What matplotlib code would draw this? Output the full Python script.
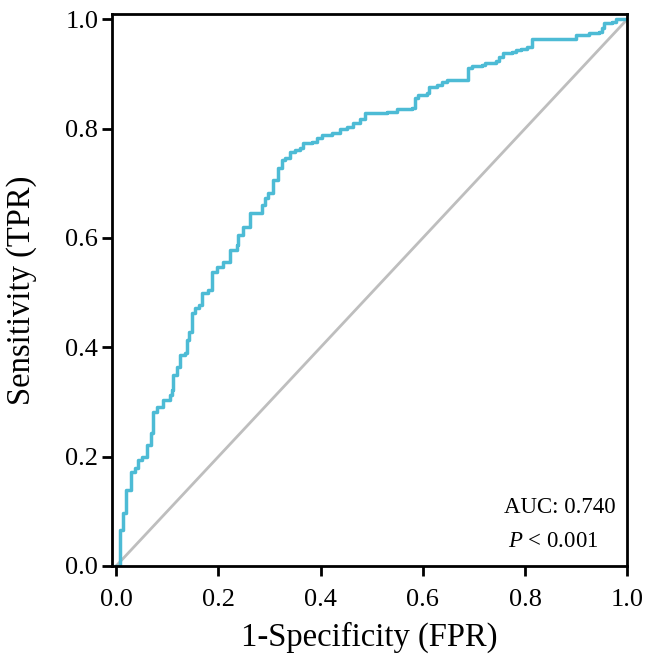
import numpy as np
import matplotlib
matplotlib.use("Agg")
import matplotlib.pyplot as plt

# ROC curve vertices
fpr = [0.000, 0.008, 0.014, 0.020, 0.029, 0.037, 0.043, 0.051, 0.061, 0.068,
       0.072, 0.080, 0.092, 0.105, 0.109, 0.111, 0.119, 0.125, 0.135, 0.139,
       0.143, 0.148, 0.154, 0.162, 0.168, 0.180, 0.188, 0.197, 0.209, 0.223,
       0.236, 0.238, 0.248, 0.262, 0.281, 0.285, 0.291, 0.297, 0.307, 0.316,
       0.324, 0.330, 0.340, 0.350, 0.359, 0.365, 0.383, 0.393, 0.402, 0.422,
       0.438, 0.451, 0.463, 0.477, 0.486, 0.529, 0.549, 0.578, 0.584, 0.590,
       0.609, 0.613, 0.627, 0.637, 0.648, 0.682, 0.688, 0.697, 0.715, 0.721,
       0.736, 0.744, 0.750, 0.756, 0.775, 0.783, 0.793, 0.803, 0.813, 0.814,
       0.893, 0.900, 0.926, 0.945, 0.951, 0.955, 0.971, 0.979, 1.000]
tpr = [0.000, 0.066, 0.097, 0.139, 0.172, 0.179, 0.194, 0.199, 0.221, 0.243,
       0.282, 0.291, 0.304, 0.313, 0.322, 0.349, 0.364, 0.386, 0.390, 0.414,
       0.428, 0.463, 0.472, 0.478, 0.500, 0.505, 0.538, 0.547, 0.556, 0.578,
       0.587, 0.606, 0.620, 0.646, 0.646, 0.661, 0.673, 0.683, 0.706, 0.728,
       0.743, 0.747, 0.758, 0.761, 0.765, 0.774, 0.776, 0.783, 0.789, 0.792,
       0.800, 0.803, 0.811, 0.818, 0.829, 0.831, 0.836, 0.838, 0.856, 0.862,
       0.866, 0.876, 0.880, 0.886, 0.889, 0.889, 0.911, 0.915, 0.917, 0.920,
       0.920, 0.924, 0.931, 0.939, 0.941, 0.944, 0.946, 0.950, 0.957, 0.964,
       0.964, 0.972, 0.975, 0.977, 0.984, 0.994, 0.995, 1.000, 1.000]

ticks = [0.0, 0.2, 0.4, 0.6, 0.8, 1.0]
auc_text = "AUC: 0.740"

plt.rcParams["font.family"] = ["Liberation Serif", "DejaVu Serif"]
plt.rcParams["mathtext.fontset"] = "custom"
plt.rcParams["mathtext.it"] = "Liberation Serif:italic"

fig = plt.figure(figsize=(6.52, 6.58), dpi=100)
ax = fig.add_axes([0.172, 0.140, 0.790, 0.839])

ax.plot([0, 1], [0, 1], color="#BEBEBE", lw=2.0, zorder=1)
ax.plot(fpr, tpr, color="#4DBBD5", lw=2.5, drawstyle="steps-post", zorder=2)

ax.set_xlim(-0.008, 1.0)
ax.set_ylim(0.0, 1.01)
ax.set_xticks(ticks)
ax.set_yticks(ticks)
ax.set_xticklabels([f"{t:.1f}" for t in ticks])
ax.set_yticklabels([f"{t:.1f}" for t in ticks])

for s in ax.spines.values():
    s.set_linewidth(2.0)
ax.tick_params(direction="out", length=7, width=2.0, labelsize=19)
ax.tick_params(axis="x", pad=10)
ax.tick_params(axis="y", pad=3)

ax.set_xlabel("1-Specificity (FPR)", fontsize=23.5, labelpad=7)
ax.set_ylabel("Sensitivity (TPR)", fontsize=23.5, labelpad=20)

ax.text(0.977, 0.105, auc_text, fontsize=16.5, ha="right", va="center",
        transform=ax.transAxes)
ax.text(0.944, 0.044, r"$P$ < 0.001", fontsize=16.5, ha="right", va="center",
        transform=ax.transAxes)

fig.savefig("out.png", dpi=100)
plt.close(fig)
